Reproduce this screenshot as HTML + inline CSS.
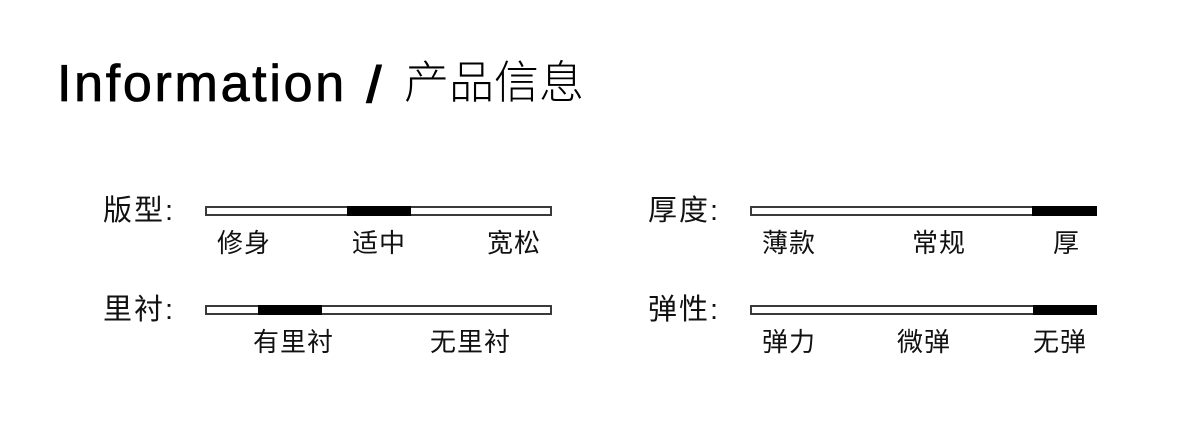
<!DOCTYPE html>
<html lang="zh">
<head>
<meta charset="utf-8">
<title>Information</title>
<style>
html,body{margin:0;padding:0;background:#fff}
#p{position:relative;width:1200px;height:430px;overflow:hidden;background:#fff;color:#000;font-family:"Liberation Sans","Noto Sans CJK SC",sans-serif}
#p span{position:absolute;white-space:nowrap;line-height:1}
.h{font-size:29px;letter-spacing:2px;font-weight:400;color:#111}
.s{font-size:26px;letter-spacing:1px;font-weight:400;color:#111}
.b{position:absolute;box-sizing:border-box;width:347px;height:10px;background:#fff;border:2px solid #3a3a3a}
.f{position:absolute;height:10px;background:#000}
</style>
</head>
<body>
<div id="p">
<span style="left:57px;top:58px;font-size:52px;letter-spacing:2.7px;-webkit-text-stroke:.8px #000">Information</span>
<span style="left:367px;top:60px;font-size:50px;-webkit-text-stroke:2px #000">/</span>
<span style="left:404px;top:60px;font-size:45px;font-weight:300">产品信息</span>

<span class="h" style="left:103px;top:197px">版型:</span>
<div class="b" style="left:205px;top:206px"></div>
<div class="f" style="left:347px;top:206px;width:64px"></div>
<span class="s" style="left:217px;top:230px">修身</span>
<span class="s" style="left:352px;top:230px">适中</span>
<span class="s" style="left:487px;top:230px">宽松</span>

<span class="h" style="left:103px;top:296px">里衬:</span>
<div class="b" style="left:205px;top:305px"></div>
<div class="f" style="left:258px;top:305px;width:64px"></div>
<span class="s" style="left:253px;top:329px">有里衬</span>
<span class="s" style="left:430px;top:329px">无里衬</span>

<span class="h" style="left:648px;top:197px">厚度:</span>
<div class="b" style="left:750px;top:206px"></div>
<div class="f" style="left:1032px;top:206px;width:65px"></div>
<span class="s" style="left:762px;top:230px">薄款</span>
<span class="s" style="left:912px;top:230px">常规</span>
<span class="s" style="left:1053px;top:230px">厚</span>

<span class="h" style="left:648px;top:296px">弹性:</span>
<div class="b" style="left:750px;top:305px"></div>
<div class="f" style="left:1033px;top:305px;width:64px"></div>
<span class="s" style="left:762px;top:329px">弹力</span>
<span class="s" style="left:897px;top:329px">微弹</span>
<span class="s" style="left:1033px;top:329px">无弹</span>
</div>
</body>
</html>
